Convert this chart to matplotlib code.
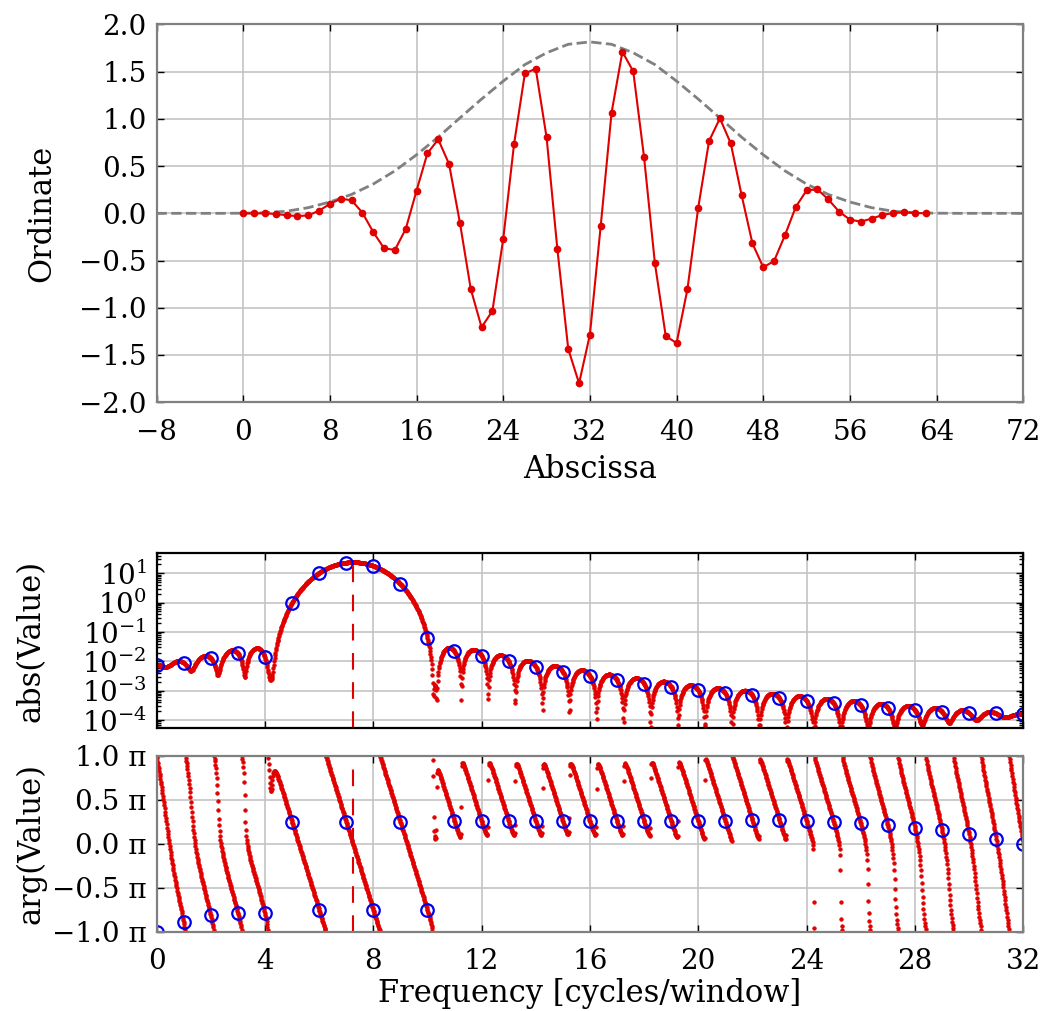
import numpy as np
import matplotlib
matplotlib.use("Agg")
import matplotlib.pyplot as plt
from matplotlib.ticker import MultipleLocator, LogLocator, FuncFormatter, NullFormatter

plt.rcParams['font.family'] = ['DejaVu Serif']
plt.rcParams['mathtext.fontset'] = 'dejavuserif'
plt.rcParams['font.size'] = 20

# ---------------- data ----------------
sample_index = list(range(64))
signal = [0.000, 0.000, 0.000, -0.007, -0.020, -0.030, -0.022, 0.028,
          0.099, 0.155, 0.138, 0.007, -0.198, -0.370, -0.388, -0.166,
          0.240, 0.635, 0.783, 0.522, -0.099, -0.800, -1.207, -1.034,
          -0.272, 0.734, 1.482, 1.531, 0.805, -0.381, -1.436, -1.800,
          -1.284, -0.131, 1.066, 1.711, 1.503, 0.593, -0.529, -1.300,
          -1.374, -0.805, 0.060, 0.766, 1.006, 0.741, 0.194, -0.318,
          -0.572, -0.505, -0.233, 0.067, 0.243, 0.254, 0.148, 0.018,
          -0.067, -0.088, -0.056, -0.018, 0.004, 0.010, 0.004, 0.000]

envelope_x = list(range(-8, 73, 2))
envelope_y = [0.0, 0.0, 0.0, 0.0,
              0.0015, 0.006, 0.022, 0.060, 0.12, 0.20, 0.31, 0.45, 0.62,
              0.807, 1.01, 1.21, 1.40, 1.575, 1.70, 1.79, 1.815, 1.79, 1.70,
              1.575, 1.40, 1.21, 1.01, 0.807, 0.62, 0.45, 0.31, 0.20, 0.12,
              0.060, 0.022, 0.006, 0.0015,
              0.0, 0.0, 0.0, 0.0]

dft_bins = list(range(33))
dft_mag = [7.5e-3, 9.0e-3, 1.3e-2, 1.9e-2, 1.37e-2, 1.0, 10.3, 23.0, 18.2, 4.3,
           6.4e-2, 2.19e-2, 1.56e-2, 1.0e-2, 6.6e-3, 4.4e-3, 3.2e-3, 2.3e-3,
           1.73e-3, 1.37e-3, 1.03e-3, 8.1e-4, 6.9e-4, 5.5e-4, 4.6e-4, 3.7e-4,
           3.2e-4, 2.6e-4, 2.2e-4, 1.92e-4, 1.73e-4, 1.69e-4, 1.66e-4]
dft_phase_pi = [-1.0, -0.89, -0.814, -0.784, -0.784, 0.25, -0.75, 0.25, -0.75, 0.25,
                -0.754, 0.258, 0.258, 0.258, 0.258, 0.258, 0.258, 0.258,
                0.258, 0.258, 0.258, 0.26, 0.265, 0.265, 0.258, 0.246,
                0.231, 0.208, 0.182, 0.155, 0.106, 0.057, 0.0]
# frequencies of the deep notches of the red magnitude curve
notch_freqs = [4.25, 10.25, 11.25, 12.25, 13.25, 14.25, 15.25, 16.25, 17.25,
               18.25, 19.25, 20.25, 21.25, 22.25, 23.25, 24.25, 25.25, 26.25, 27.25]
main_lobe_bins = [5, 6, 7, 8, 9]
carrier_freq = 7.25

# ---------------- spectrum: band-limited interpolation of the DFT bins ----------------
N = len(signal)
pad = 64
mag = np.array(dft_mag)
phs = np.exp(1j * np.pi * np.array(dft_phase_pi))


def dtft_from_half(Xh, freqs):
    X = np.zeros(N, dtype=complex)
    X[:33] = Xh
    X[33:] = np.conj(Xh[1:32][::-1])
    x = np.fft.ifft(X).real
    nn = np.arange(N)
    return np.exp(-2j * np.pi * np.outer(freqs, nn) / N) @ x


f_dense = np.arange(32 * pad + 1) / pad
notch = np.array(notch_freqs)
# main-lobe magnitudes are only readable to a few percent; refine them within
# that tolerance so that the interpolated curve has its notches where the
# reference shows them
Xh0 = mag * phs
Xh0[main_lobe_bins] = 0
S = dtft_from_half(Xh0, notch)
U = []
for k in main_lobe_bins:
    e = np.zeros(33, dtype=complex)
    e[k] = phs[k]
    U.append(dtft_from_half(e, notch))
U = np.array(U).T
w = 1.0 / mag[np.floor(notch).astype(int)]
A = np.vstack([(U * w[:, None]).real, (U * w[:, None]).imag])
b = -np.concatenate([(S * w).real, (S * w).imag])
a0 = mag[main_lobe_bins]
reg = 20.0
A = np.vstack([A, np.diag(reg / a0)])
b = np.concatenate([b, reg * np.ones(len(a0))])
a_fit = np.linalg.lstsq(A, b, rcond=None)[0]

Xh = mag * phs
Xh[main_lobe_bins] = a_fit * phs[main_lobe_bins]
circ_mag = np.abs(Xh)
circ_phase = np.array(dft_phase_pi)
Xd = dtft_from_half(Xh, f_dense)
mag_dense = np.abs(Xd)
ph_dense = np.angle(Xd) / np.pi

RED = '#e00000'
GRID = '#c4c4c4'

fig = plt.figure(figsize=(10.45, 10.11), dpi=100)
ax1 = fig.add_axes([0.1498, 0.6022, 0.8294, 0.3736])
ax2 = fig.add_axes([0.1498, 0.2796, 0.8294, 0.1731])
ax3 = fig.add_axes([0.1498, 0.0784, 0.8294, 0.1741])


def style(ax, spine_color):
    ax.grid(True, color=GRID, lw=1.2)
    ax.set_axisbelow(True)
    for s in ax.spines.values():
        s.set_color(spine_color)
        s.set_linewidth(1.6)
    ax.tick_params(which='both', direction='in', top=True, right=True,
                   length=5, width=1, color='black', labelsize=20)
    ax.tick_params(which='minor', length=3)
    ax.tick_params(axis='x', pad=12)
    ax.tick_params(axis='y', pad=7)


# top panel
ax1.plot(envelope_x, envelope_y, '--', color='#808080', lw=2)
ax1.plot(sample_index, signal, '-o', color=RED, lw=1.5, ms=4.5)
ax1.set_xlim(-8, 72)
ax1.set_ylim(-2, 2)
ax1.xaxis.set_major_locator(MultipleLocator(8))
ax1.yaxis.set_major_locator(MultipleLocator(0.5))
ax1.yaxis.set_major_formatter(FuncFormatter(lambda v, p: f"{v:.1f}".replace('-', '\u2212')))
ax1.set_xlabel('Abscissa', fontsize=22, labelpad=6)
ax1.set_ylabel('Ordinate', fontsize=22)
style(ax1, '#808080')

# magnitude panel
ax2.plot(f_dense, mag_dense, '.', color=RED, ms=5, mew=0.6)
ax2.plot(dft_bins, circ_mag, 'o', mfc='none', mec='#0000ee', ms=9, mew=1.6)
ax2.axvline(carrier_freq, color=RED, lw=1.5, dashes=(8, 6))
ax2.set_yscale('log')
ax2.set_xlim(0, 32)
ax2.set_ylim(10 ** -4.28, 10 ** 1.68)
ax2.yaxis.set_major_locator(LogLocator(base=10, numticks=20))
ax2.yaxis.set_minor_locator(LogLocator(base=10, subs=np.arange(2, 10), numticks=20))
ax2.yaxis.set_minor_formatter(NullFormatter())
ax2.xaxis.set_major_locator(MultipleLocator(4))
ax2.tick_params(labelbottom=False)
ax2.set_ylabel('abs(Value)', fontsize=22)
style(ax2, 'black')

# phase panel
ax3.plot(f_dense, ph_dense, '.', color=RED, ms=5, mew=0.6)
ax3.plot(dft_bins, circ_phase, 'o', mfc='none', mec='#0000ee', ms=9, mew=1.6)
ax3.axvline(carrier_freq, color=RED, lw=1.5, dashes=(8, 6))
ax3.set_xlim(0, 32)
ax3.set_ylim(-1, 1)
ax3.xaxis.set_major_locator(MultipleLocator(4))
ax3.yaxis.set_major_locator(MultipleLocator(0.5))
ax3.yaxis.set_major_formatter(FuncFormatter(lambda v, p: f"{v:.1f} \u03c0".replace('-', '\u2212')))
ax3.set_xlabel('Frequency [cycles/window]', fontsize=22, labelpad=2)
ax3.set_ylabel('arg(Value)', fontsize=22)
style(ax3, '#808080')

ax1.yaxis.set_label_coords(-0.115, 0.5)
ax2.yaxis.set_label_coords(-0.127, 0.5)
ax3.yaxis.set_label_coords(-0.127, 0.5)

fig.savefig('out.png', dpi=100)
